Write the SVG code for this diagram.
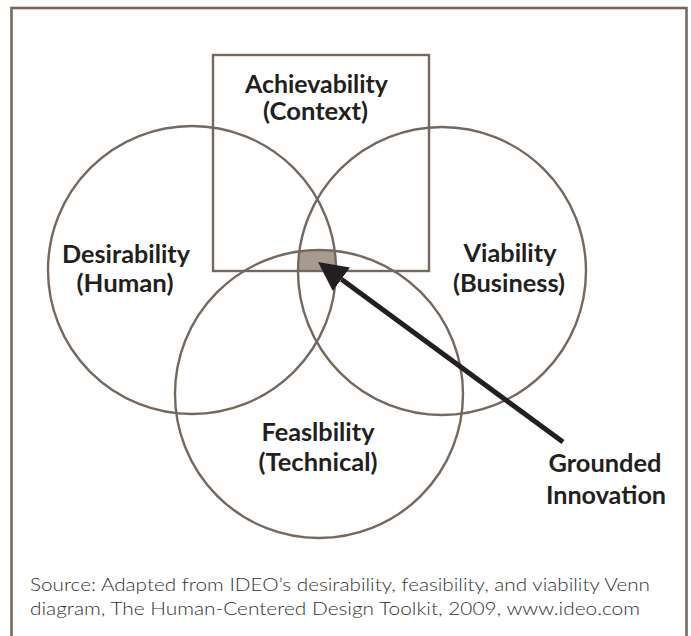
<svg xmlns="http://www.w3.org/2000/svg" width="691" height="636" viewBox="0 0 691 636">
<defs>
<style>
.frame{fill:none;stroke:#75695f;stroke-width:2.6}
.shape{fill:none;stroke:#75695f;stroke-width:2.4}
.lbl{font-family:Lato,"Open Sans","Liberation Sans",sans-serif;font-weight:700;font-size:24.5px;fill:#231f20;text-anchor:middle}
.src{font-family:Lato,"Open Sans","Liberation Sans",sans-serif;font-weight:300;font-size:18.5px;fill:#333333}
.arrow{stroke:#231f20;stroke-width:5;fill:none}
</style>
<marker id="ah" markerUnits="userSpaceOnUse" markerWidth="30" markerHeight="30" refX="0" refY="14.5" orient="auto" viewBox="0 0 30 30">
<path d="M0,0 L29,14.5 L0,29 Z" fill="#231f20"/>
</marker>
<clipPath id="cL"><circle cx="192" cy="270" r="144"/></clipPath>
<clipPath id="cR"><circle cx="442" cy="271" r="144"/></clipPath>
<clipPath id="cB"><circle cx="319" cy="394" r="144"/></clipPath>
</defs>
<rect width="691" height="636" fill="#ffffff"/>
<rect class="frame" x="11.5" y="8" width="675" height="660"/>

<g id="grounded-area">
<g clip-path="url(#cL)"><g clip-path="url(#cR)"><g clip-path="url(#cB)">
<rect x="213" y="55" width="216" height="216" fill="#a69b8e"/>
</g></g></g>
</g>

<g id="achievability">
<rect class="shape" x="213" y="55" width="216" height="216"/>
<text class="lbl" x="316.5" y="93" textLength="143" lengthAdjust="spacingAndGlyphs">Achievability</text>
<text class="lbl" x="315.5" y="120" textLength="105" lengthAdjust="spacingAndGlyphs">(Context)</text>
</g>
<g id="desirability">
<circle class="shape" cx="192" cy="270" r="144"/>
<text class="lbl" x="126" y="263" textLength="128" lengthAdjust="spacingAndGlyphs">Desirability</text>
<text class="lbl" x="125" y="292" textLength="97" lengthAdjust="spacingAndGlyphs">(Human)</text>
</g>
<g id="viability">
<circle class="shape" cx="442" cy="271" r="144"/>
<text class="lbl" x="510" y="262" textLength="93" lengthAdjust="spacingAndGlyphs">Viability</text>
<text class="lbl" x="509" y="292" textLength="112" lengthAdjust="spacingAndGlyphs">(Business)</text>
</g>
<g id="feasibility">
<circle class="shape" cx="319" cy="394" r="144"/>
<text class="lbl" x="318" y="441" textLength="113" lengthAdjust="spacingAndGlyphs">Feaslbility</text>
<text class="lbl" x="318" y="471" textLength="119" lengthAdjust="spacingAndGlyphs">(Technical)</text>
</g>
<g id="grounded-innovation">
<text class="lbl" x="605" y="472" textLength="113" lengthAdjust="spacingAndGlyphs">Grounded</text>
<text class="lbl" x="606" y="504" textLength="120" lengthAdjust="spacingAndGlyphs">Innovation</text>
</g>

<g id="connectors">
<line class="arrow" x1="563" y1="442" x2="341.4" y2="279.2" marker-end="url(#ah)"/>
</g>

<g id="source">
<text class="src" x="30" y="591" textLength="620" lengthAdjust="spacingAndGlyphs">Source: Adapted from IDEO’s desirability, feasibility, and viability Venn</text>
<text class="src" x="30" y="615" textLength="610" lengthAdjust="spacingAndGlyphs">diagram, The Human-Centered Design Toolkit, 2009, www.ideo.com</text>
</g>
</svg>
